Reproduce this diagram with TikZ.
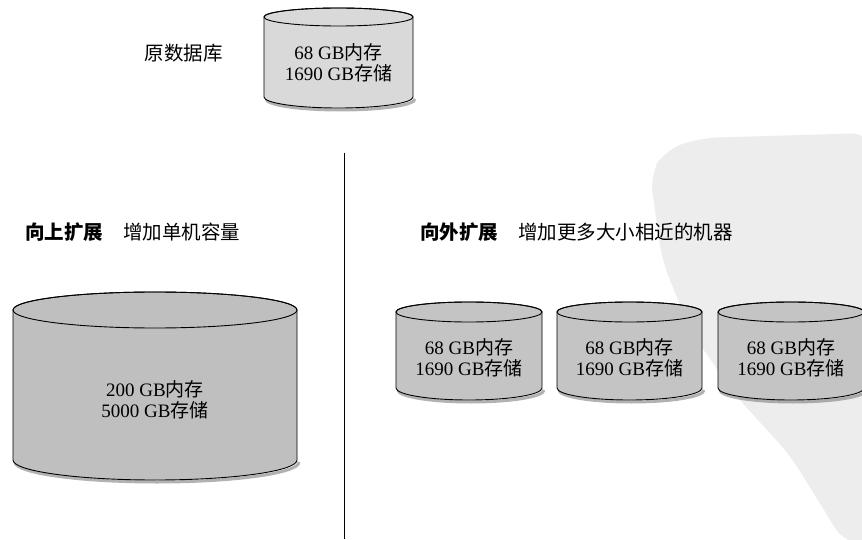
\documentclass[tikz,border=0pt]{standalone}
\usepackage{fontspec}
\setmainfont{Liberation Serif}
\newfontfamily\cjk{Noto Sans CJK SC}
\tikzset{
  cyltext/.style={align=center, inner sep=0pt, font=\fontsize{19}{21}\selectfont},
  headtext/.style={anchor=west, inner sep=0pt, font=\fontsize{19.5}{22}\selectfont\cjk},
  cylline/.style={draw=black, line width=0.9pt},
  cylshadow/.style={draw=black!55, line width=3pt, opacity=0.55},
  divider/.style={draw=black, line width=0.8pt},
}
% #1 left x, #2 right x, #3 top centre Y, #4 top ry, #5 bottom centre Y, #6 bottom ry, #7 fill
\newcommand\mydbcyl[7]{%
  \pgfmathsetmacro\cx{(#1+#2)/2}%
  \pgfmathsetmacro\rx{(#2-#1)/2}%
  \draw[cylshadow] (#1+2,#5-2) arc[start angle=180,end angle=360,x radius=\rx,y radius=#6];
  \filldraw[cylline, fill=#7] (#1,#3) -- (#1,#5) arc[start angle=180,end angle=360,x radius=\rx,y radius=#6] -- (#2,#3) arc[start angle=0,end angle=180,x radius=\rx,y radius=#4] -- cycle;
  \draw[cylline] (\cx,#3) ellipse[x radius=\rx,y radius=#4];
}
\begin{document}
\begin{tikzpicture}[x=1pt,y=1pt]
\useasboundingbox (0,0) rectangle (862,539);
\fill[white] (0,0) rectangle (862,539);
% watermark blob
\fill[black!7, rounded corners=18pt] (650,364) -- (665,389) -- (700,401) -- (870,406) -- (870,-5) -- (845,-5) -- (790,84) -- (735,144) -- (690,209) -- (662,279) -- cycle;
% original database
\node[font=\fontsize{19.5}{22}\selectfont\cjk, inner sep=0pt] (orig) at (183.5,486) {原数据库};
\mydbcyl{264}{413}{522}{9}{442}{11}{black!15}
\node[cyltext] (origdb) at (338.5,476) {68 GB{\cjk 内存}\\1690 GB{\cjk 存储}};
% divider
\coordinate (divtop) at (344,386);
\coordinate (divbot) at (344,0);
\draw[divider] (divtop) -- (divbot);
% scale up
\node[headtext, font=\fontsize{19.5}{22}\selectfont\cjk\bfseries] (uptitle) at (25,307) {向上扩展};
\node[headtext] (updesc) at (123,307) {增加单机容量};
\mydbcyl{13}{297}{229}{18}{79}{20}{black!25}
\node[cyltext] (bigdb) at (155,139) {200 GB{\cjk 内存}\\5000 GB{\cjk 存储}};
% scale out
\node[headtext, font=\fontsize{19.5}{22}\selectfont\cjk\bfseries] (outtitle) at (420,307) {向外扩展};
\node[headtext] (outdesc) at (518,307) {增加更多大小相近的机器};
\mydbcyl{396}{542}{227}{10}{151}{12}{black!23}
\node[cyltext] (db1) at (469,181) {68 GB{\cjk 内存}\\1690 GB{\cjk 存储}};
\mydbcyl{557}{702}{227}{10}{151}{12}{black!23}
\node[cyltext] (db2) at (629.5,181) {68 GB{\cjk 内存}\\1690 GB{\cjk 存储}};
\mydbcyl{718}{864}{227}{10}{151}{12}{black!23}
\node[cyltext] (db3) at (791,181) {68 GB{\cjk 内存}\\1690 GB{\cjk 存储}};
\end{tikzpicture}
\end{document}
